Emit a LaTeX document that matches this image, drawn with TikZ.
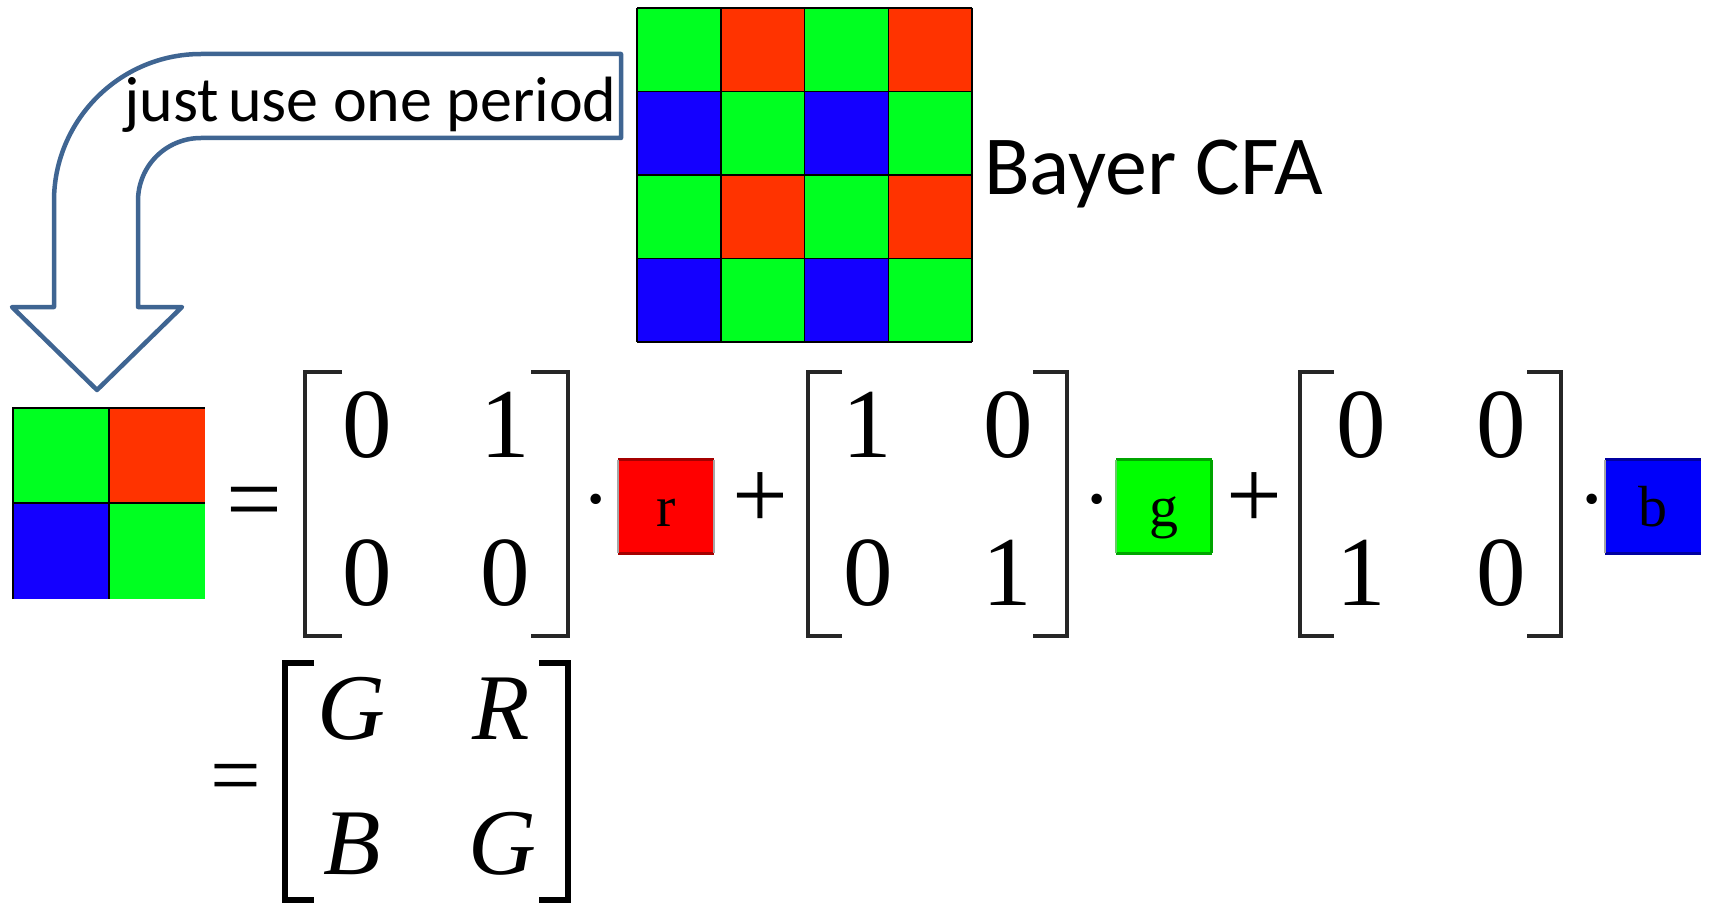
\documentclass[tikz,border=0pt]{standalone}
\usepackage{fontspec}
\setmainfont{Liberation Serif}
\newfontfamily\calibrifont{Carlito}

% filter colours of the mosaic
\definecolor{cfagreen}{RGB}{0,255,33}
\definecolor{cfared}{RGB}{255,51,0}
\definecolor{cfablue}{RGB}{20,0,255}
% coefficient swatches
\definecolor{swred}{RGB}{255,0,0}
\definecolor{swrededge}{RGB}{165,0,0}
\definecolor{swgreen}{RGB}{0,255,0}
\definecolor{swgreenedge}{RGB}{0,165,0}
\definecolor{swblue}{RGB}{0,0,250}
\definecolor{swblueedge}{RGB}{0,0,160}
\definecolor{arrowblue}{RGB}{63,101,146}

\tikzset{
  cellline/.style={draw=black, line width=1.5},
  bendarrow/.style={draw=arrowblue, line width=4.5, line join=round, fill=white},
  bracketline/.style={draw=black!85, line width=4.5},
  bigbracket/.style={draw=black, line width=5.5},
  digit/.style={inner sep=0, anchor=base, font=\fontsize{99}{99}\selectfont},
  symb/.style={inner sep=0, anchor=base, font=\fontsize{99}{99}\selectfont},
  letter/.style={inner sep=0, anchor=base, font=\fontsize{94}{94}\selectfont\itshape},
  swatch/.style={inner sep=0, minimum width=95, minimum height=93},
  swatchtext/.style={inner sep=0, anchor=base, font=\fontsize{58}{58}\selectfont},
  dotop/.style={inner sep=0, anchor=base, font=\fontsize{64}{64}\selectfont\bfseries},
}

\newcommand\squarebrackets[6]{% left, right, top, bottom, serif, style
  \draw[#6] ({#1+#5},#3) -- (#1,#3) -- (#1,#4) -- ({#1+#5},#4);
  \draw[#6] ({#2-#5},#3) -- (#2,#3) -- (#2,#4) -- ({#2-#5},#4);
}

\begin{document}
\begin{tikzpicture}[x=1pt, y=-1pt]
\useasboundingbox (0,0) rectangle (1714,904);

% ---- 4x4 Bayer mosaic ----
\foreach \rw in {0,2}
  \foreach \c/\col in {0/cfagreen,1/cfared,2/cfagreen,3/cfared}
    \fill[\col] ({637+83.75*\c},{8+83.5*\rw}) rectangle ++(83.75,83.5);
\foreach \rw in {1,3}
  \foreach \c/\col in {0/cfablue,1/cfagreen,2/cfablue,3/cfagreen}
    \fill[\col] ({637+83.75*\c},{8+83.5*\rw}) rectangle ++(83.75,83.5);
\foreach \k in {0,...,4} {
  \draw[cellline] ({637+83.75*\k},8) -- ({637+83.75*\k},342);
  \draw[cellline] (637,{8+83.5*\k}) -- (972,{8+83.5*\k});
}
\node[inner sep=0, anchor=base west, font=\calibrifont\fontsize{84}{84}\selectfont]
  (cfa) at (984,195) {Bayer CFA};

% ---- bent block arrow ----
\draw[bendarrow] (621,54) -- (201,54)
  .. controls (120,54) and (54,120) .. (54,201)
  -- (54,307) -- (12,307) -- (97,390) -- (182,307) -- (138,307) -- (138,201)
  .. controls (138,166) and (166,138) .. (201,138)
  -- (621,138) -- cycle;
\node[inner sep=0, anchor=base west, font=\calibrifont\fontsize{64}{64}\selectfont]
  (period) at (124,122) {just\hspace{-0.08em} use one period};

% ---- one period of the mosaic ----
\fill[cfagreen] (13,408) rectangle (109,503);
\fill[cfared]   (109,408) rectangle (205,503);
\fill[cfablue]  (13,503) rectangle (109,599);
\fill[cfagreen] (109,503) rectangle (205,599);
\draw[cellline] (13,599) -- (13,408) -- (205,408);
\draw[cellline] (109,408) -- (109,599);
\draw[cellline] (13,503) -- (205,503);

% ---- decomposition into r, g, b masks ----
\node[symb] (eqa) at (254,532) {=};

\squarebrackets{305}{568}{372}{636}{37}{bracketline}
\node[digit] (a11) at (367,457) {0};
\node[digit] (a12) at (505,457) {1};
\node[digit] (a21) at (367,605) {0};
\node[digit] (a22) at (505,605) {0};
\node[dotop] (dota) at (596,520) {·};
\node[swatch, fill=swred] (rbox) at (666,506.5) {};
\draw[swrededge, line width=3] (rbox.north west) -- (rbox.north east)
  (rbox.south west) -- (rbox.south east);
\draw[black!35, line width=2] (rbox.north west) -- (rbox.south west)
  (rbox.north east) -- (rbox.south east);
\node[swatchtext] (rtxt) at (666,526) {r};

\node[symb] (plusa) at (760,528) {+};

\squarebrackets{808}{1067}{372}{636}{34}{bracketline}
\node[digit] (b11) at (867,457) {1};
\node[digit] (b12) at (1008,457) {0};
\node[digit] (b21) at (868,605) {0};
\node[digit] (b22) at (1007,605) {1};
\node[dotop] (dotb) at (1097,520) {·};
\node[swatch, fill=swgreen] (gbox) at (1164,506.5) {};
\draw[swgreenedge, line width=3] (gbox.north west) -- (gbox.north east)
  (gbox.south west) -- (gbox.south east) (gbox.north east) -- (gbox.south east);
\draw[swgreenedge!60, line width=2] (gbox.north west) -- (gbox.south west);
\node[swatchtext] (gtxt) at (1164,526) {g};

\node[symb] (plusb) at (1254,528) {+};

\squarebrackets{1300}{1561}{372}{636}{34}{bracketline}
\node[digit] (c11) at (1361,457) {0};
\node[digit] (c12) at (1501,457) {0};
\node[digit] (c21) at (1361,605) {1};
\node[digit] (c22) at (1501,605) {0};
\node[dotop] (dotc) at (1592,520) {·};
\node[swatch, fill=swblue] (bbox) at (1653,506.5) {};
\draw[swblueedge, line width=3] (bbox.north west) -- (bbox.north east)
  (bbox.south west) -- (bbox.south east);
\draw[black!35, line width=2] (bbox.north west) -- (bbox.south west);
\node[swatchtext] (btxt) at (1653,526) {b};

% ---- resulting pattern ----
\node[symb, font=\fontsize{90}{90}\selectfont] (eqb) at (236,805) {=};
\squarebrackets{285}{568}{663}{900}{29}{bigbracket}
\node[letter] (p11) at (351,739) {G};
\node[letter] (p12) at (501,739) {R};
\node[letter] (p21) at (352,874) {B};
\node[letter] (p22) at (502,874) {G};
\end{tikzpicture}
\end{document}
